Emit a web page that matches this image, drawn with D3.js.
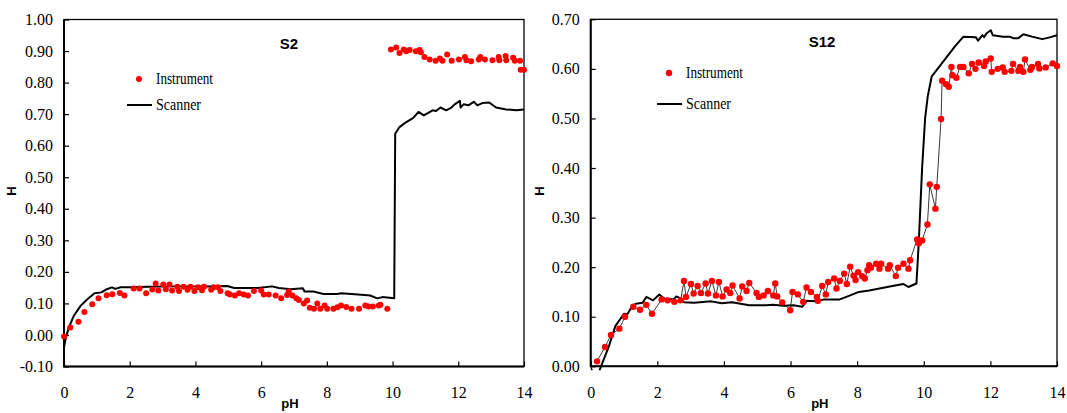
<!DOCTYPE html>
<meta charset="utf-8">
<style>

body {
  margin: 0;
  background: #fff;
}

svg {
  font-family: "Liberation Serif", "Times New Roman", serif;
}

.axis line {
  stroke: #000;
  stroke-width: 1.2;
}

.label {
  font-family: "Liberation Sans", Arial, sans-serif;
  font-weight: bold;
}

.legend text {
  font-family: "Liberation Serif", "Times New Roman", serif;
  font-size: 16px;
}

</style>
<body>
<script src="https://d3js.org/d3.v7.min.js"></script>
<script>

// shared tick labels
var pHTicks = [0, 2, 4, 6, 8, 10, 12, 14];
var s2HTicks = [-0.1, 0, 0.1, 0.2, 0.3, 0.4, 0.5, 0.6, 0.7, 0.8, 0.9, 1.0];
var s12HTicks = [0, 0.1, 0.2, 0.3, 0.4, 0.5, 0.6, 0.7];

// S2 - instrument (dots only)
var s2InstrumentPH = [0, 0.19, 0.44, 0.62, 0.86, 1.05, 1.30, 1.47, 1.70, 1.84, 2.12, 2.30, 2.50, 2.69, 2.79, 2.87, 3.02, 3.10, 3.21, 3.29,
  3.45, 3.50, 3.64, 3.76, 3.85, 3.97, 4.08, 4.20, 4.26, 4.48, 4.55, 4.69, 4.76, 4.98, 5.05, 5.20, 5.33, 5.47, 5.60, 5.78,
  6.00, 6.08, 6.23, 6.44, 6.61, 6.79, 6.84, 6.95, 7.07, 7.15, 7.30, 7.40, 7.48, 7.61, 7.71, 7.80, 7.93, 8.01, 8.20, 8.32,
  8.43, 8.59, 8.75, 8.98, 9.17, 9.27, 9.40, 9.58, 9.63, 9.84, 9.95, 10.11, 10.21, 10.34, 10.42, 10.52, 10.71, 10.82, 10.86, 10.97,
  11.13, 11.31, 11.44, 11.52, 11.66, 11.80, 12.02, 12.20, 12.25, 12.39, 12.62, 12.67, 12.81, 13.04, 13.23, 13.25, 13.44, 13.46, 13.67, 13.72,
  13.88, 13.90, 14.00];
var s2InstrumentH = [-0.005, 0.024, 0.042, 0.073, 0.097, 0.116, 0.126, 0.129, 0.133, 0.125, 0.147, 0.147, 0.132, 0.144, 0.163, 0.141, 0.160, 0.145, 0.160, 0.141,
  0.153, 0.139, 0.153, 0.143, 0.153, 0.139, 0.151, 0.142, 0.153, 0.143, 0.151, 0.151, 0.139, 0.132, 0.128, 0.125, 0.132, 0.128, 0.125, 0.139,
  0.141, 0.128, 0.128, 0.125, 0.116, 0.127, 0.138, 0.125, 0.116, 0.111, 0.100, 0.109, 0.086, 0.083, 0.100, 0.083, 0.093, 0.083, 0.083, 0.088,
  0.093, 0.089, 0.083, 0.083, 0.093, 0.090, 0.090, 0.093, 0.096, 0.083, 0.905, 0.911, 0.894, 0.905, 0.899, 0.903, 0.899, 0.903, 0.896, 0.881,
  0.873, 0.869, 0.876, 0.869, 0.889, 0.869, 0.873, 0.881, 0.871, 0.868, 0.873, 0.881, 0.873, 0.871, 0.881, 0.871, 0.884, 0.871, 0.879, 0.869,
  0.869, 0.841, 0.841];

// S2 - scanner
var s2ScannerPH = [0, 0.06, 0.15, 0.30, 0.51, 0.72, 0.93, 1.14, 1.30, 1.46, 1.56, 1.72, 2.03, 2.56, 3.29, 4.34, 4.97, 5.18, 5.91, 6.33,
  6.54, 6.90, 7.27, 7.32, 7.59, 7.90, 8.32, 8.43, 8.95, 9.32, 9.53, 9.69, 10.05, 10.08, 10.21, 10.42, 10.63, 10.79, 10.95, 11.22,
  11.32, 11.46, 11.63, 11.79, 11.89, 12.05, 12.07, 12.16, 12.31, 12.47, 12.58, 12.73, 12.94, 13.15, 13.46, 13.77, 14.00];
var s2ScannerH = [-0.039, -0.007, 0.024, 0.061, 0.093, 0.114, 0.132, 0.135, 0.145, 0.151, 0.146, 0.151, 0.151, 0.153, 0.154, 0.154, 0.155, 0.149, 0.149, 0.154,
  0.149, 0.145, 0.148, 0.138, 0.138, 0.130, 0.130, 0.132, 0.128, 0.125, 0.116, 0.120, 0.116, 0.638, 0.659, 0.675, 0.688, 0.707, 0.696, 0.712,
  0.710, 0.721, 0.712, 0.721, 0.731, 0.742, 0.721, 0.731, 0.728, 0.739, 0.728, 0.735, 0.737, 0.721, 0.715, 0.712, 0.715];

// S12 - instrument (dots joined by a thin line)
var s12InstrumentPH = [0.19, 0.43, 0.61, 0.86, 1.03, 1.28, 1.48, 1.67, 1.84, 2.13, 2.31, 2.51, 2.70, 2.80, 2.86, 3.01, 3.09, 3.21, 3.31, 3.45,
  3.52, 3.64, 3.76, 3.85, 3.96, 4.08, 4.19, 4.26, 4.47, 4.55, 4.68, 4.76, 4.98, 5.05, 5.19, 5.32, 5.48, 5.54, 5.60, 5.75,
  5.99, 6.06, 6.22, 6.38, 6.48, 6.61, 6.79, 6.82, 6.95, 7.06, 7.13, 7.31, 7.38, 7.48, 7.61, 7.69, 7.79, 7.89, 7.95, 8.03,
  8.15, 8.23, 8.31, 8.36, 8.41, 8.57, 8.67, 8.72, 8.93, 8.98, 9.16, 9.23, 9.39, 9.54, 9.59, 9.80, 9.85, 9.95, 10.11, 10.18,
  10.35, 10.39, 10.52, 10.55, 10.67, 10.75, 10.83, 10.86, 10.98, 11.09, 11.19, 11.35, 11.45, 11.55, 11.65, 11.81, 11.86, 12.01, 12.04, 12.22,
  12.37, 12.43, 12.63, 12.68, 12.84, 12.89, 12.99, 13.04, 13.20, 13.25, 13.43, 13.47, 13.66, 13.87, 14.00];
var s12InstrumentH = [0.010, 0.039, 0.063, 0.076, 0.100, 0.120, 0.114, 0.124, 0.106, 0.135, 0.133, 0.130, 0.133, 0.172, 0.140, 0.166, 0.147, 0.162, 0.148, 0.167,
  0.147, 0.172, 0.143, 0.170, 0.141, 0.155, 0.148, 0.163, 0.137, 0.161, 0.152, 0.168, 0.148, 0.140, 0.143, 0.152, 0.143, 0.167, 0.141, 0.129,
  0.113, 0.150, 0.145, 0.130, 0.159, 0.150, 0.140, 0.132, 0.162, 0.145, 0.170, 0.177, 0.157, 0.172, 0.187, 0.166, 0.201, 0.183, 0.174, 0.190,
  0.182, 0.177, 0.194, 0.204, 0.199, 0.207, 0.197, 0.207, 0.197, 0.204, 0.182, 0.199, 0.207, 0.197, 0.214, 0.256, 0.248, 0.254, 0.286, 0.367,
  0.318, 0.362, 0.499, 0.576, 0.569, 0.564, 0.604, 0.587, 0.582, 0.604, 0.604, 0.591, 0.610, 0.600, 0.613, 0.606, 0.615, 0.621, 0.594, 0.600,
  0.603, 0.594, 0.596, 0.610, 0.596, 0.604, 0.594, 0.619, 0.598, 0.604, 0.610, 0.601, 0.603, 0.611, 0.606];

// S12 - scanner
var s12ScannerPH = [0, 0.15, 0.31, 0.54, 0.74, 1.00, 1.10, 1.26, 1.36, 1.56, 1.67, 1.87, 2.06, 2.20, 2.49, 2.57, 2.70, 2.80, 3.11, 3.62,
  3.93, 4.24, 4.76, 5.27, 5.48, 5.79, 6.09, 6.35, 6.49, 6.76, 7.02, 7.48, 7.79, 8.05, 8.36, 8.67, 8.98, 9.39, 9.54, 9.78,
  9.85, 9.95, 10.04, 10.12, 10.24, 10.53, 10.93, 11.19, 11.56, 11.63, 11.76, 11.81, 11.89, 12.01, 12.07, 12.38, 12.58, 12.68, 12.84, 12.99,
  13.25, 13.56, 13.81, 14.00];
var s12ScannerH = [-0.002, -0.03, 0.000, 0.039, 0.081, 0.106, 0.105, 0.123, 0.126, 0.128, 0.140, 0.133, 0.145, 0.137, 0.135, 0.141, 0.137, 0.129, 0.128, 0.131,
  0.127, 0.129, 0.123, 0.123, 0.124, 0.122, 0.123, 0.120, 0.132, 0.131, 0.135, 0.135, 0.143, 0.150, 0.153, 0.157, 0.161, 0.166, 0.160, 0.167,
  0.25, 0.40, 0.50, 0.545, 0.585, 0.610, 0.645, 0.665, 0.664, 0.657, 0.668, 0.664, 0.672, 0.678, 0.668, 0.665, 0.665, 0.662, 0.662, 0.670,
  0.665, 0.660, 0.664, 0.668];

var width = 1067,
    height = 413;

var serif = "'Liberation Serif', 'Times New Roman', serif";

var svg = d3.select("body").append("svg")
    .attr("width", width)
    .attr("height", height);

var fmt = function (d) { return d.toFixed(2); };

function pairs(xs, ys) {
  return d3.range(Math.min(xs.length, ys.length)).map(function (i) { return [xs[i], ys[i]]; });
}

// strip the axis line and put Times-like labels on the ticks
function styleAxis(a) {
  a.select(".domain").remove();
  a.attr("font-family", serif).attr("font-size", 16);
  a.selectAll("text")
    .attr("fill", "#000")
    .style("font-family", serif)
    .style("font-size", "16px");
}

function drawChart(c) {
  var x = d3.scaleLinear().domain([0, 14]).range([c.left, c.right]);
  var y = d3.scaleLinear().domain(c.yDomain).range([c.bottom, c.top]);
  var g = svg.append("g");

  /* clip for the scanner line, a little slack under the axis */
  g.append("clipPath").attr("id", c.id + "-clip")
    .append("rect")
    .attr("x", c.left).attr("y", c.top)
    .attr("width", c.right - c.left).attr("height", c.bottom - c.top + 4);

  /* axes, ticks pointing inwards */
  g.append("g").attr("class", "axis")
    .attr("transform", "translate(" + c.left + ",0)")
    .call(d3.axisLeft(y).tickValues(c.yTicks).tickFormat(fmt).tickSizeInner(-5).tickSizeOuter(0).tickPadding(11))
    .call(styleAxis);

  g.append("g").attr("class", "axis")
    .attr("transform", "translate(0," + c.bottom + ")")
    .call(d3.axisBottom(x).tickValues(pHTicks).tickFormat(d3.format("d")).tickSizeInner(-5).tickSizeOuter(0).tickPadding(20))
    .call(styleAxis);

  /* plot frame */
  g.append("rect")
    .attr("x", c.left).attr("y", c.top)
    .attr("width", c.right - c.left).attr("height", c.bottom - c.top)
    .attr("fill", "none").attr("stroke", "#000").attr("stroke-width", 1.3);
  g.append("path")
    .attr("d", "M" + c.left + "," + c.top + "V" + c.bottom + "H" + c.right)
    .attr("fill", "none").attr("stroke", "#000").attr("stroke-width", 2);

  var line = d3.line()
    .x(function (d) { return x(d[0]); })
    .y(function (d) { return y(d[1]); });

  g.append("path")
    .datum(pairs(c.scannerPH, c.scannerH))
    .attr("clip-path", "url(#" + c.id + "-clip)")
    .attr("fill", "none")
    .attr("stroke", "#000")
    .attr("stroke-width", 2)
    .attr("stroke-linejoin", "round")
    .attr("d", line);

  var inst = pairs(c.instrumentPH, c.instrumentH);

  if (c.joinInstrument) {
    g.append("path")
      .datum(inst)
      .attr("fill", "none")
      .attr("stroke", "#222")
      .attr("stroke-width", 0.9)
      .attr("d", line);
  }

  g.selectAll("circle.inst")
    .data(inst)
    .enter().append("circle")
    .attr("class", "inst")
    .attr("cx", function (d) { return x(d[0]); })
    .attr("cy", function (d) { return y(d[1]); })
    .attr("r", c.dotR)
    .attr("fill", "#ff0000");

  /* titles */
  g.append("text").attr("class", "label")
    .attr("x", c.titleX).attr("y", c.titleY)
    .attr("text-anchor", "middle")
    .style("font-size", "15px")
    .text(c.title);

  g.append("text").attr("class", "label")
    .attr("x", (c.left + c.right) / 2 - 4).attr("y", 408)
    .attr("text-anchor", "middle")
    .style("font-size", "13px")
    .text("pH");

  g.append("text").attr("class", "label")
    .attr("transform", "translate(" + (c.hLabelX + 5) + "," + 191 + ") rotate(-90)")
    .attr("text-anchor", "middle")
    .style("font-size", "13px")
    .text("H");

  /* legend */
  var lg = g.append("g").attr("class", "legend");
  lg.append("circle")
    .attr("cx", c.legendX + 12).attr("cy", c.legendY)
    .attr("r", c.dotR).attr("fill", "#ff0000");
  lg.append("text")
    .attr("x", c.legendX + 29).attr("y", c.legendY + 5)
    .attr("textLength", 57).attr("lengthAdjust", "spacingAndGlyphs")
    .text("Instrument");
  lg.append("line")
    .attr("x1", c.legendX).attr("x2", c.legendX + 25)
    .attr("y1", c.legendY + c.legendGap).attr("y2", c.legendY + c.legendGap)
    .attr("stroke", "#000").attr("stroke-width", 2);
  lg.append("text")
    .attr("x", c.legendX + 29).attr("y", c.legendY + c.legendGap + 5)
    .attr("textLength", 45).attr("lengthAdjust", "spacingAndGlyphs")
    .text("Scanner");
}

drawChart({
  id: "s2", title: "S2",
  left: 64, right: 524, top: 19.5, bottom: 366.5,
  yDomain: [-0.1, 1.0], yTicks: s2HTicks,
  instrumentPH: s2InstrumentPH, instrumentH: s2InstrumentH,
  scannerPH: s2ScannerPH, scannerH: s2ScannerH,
  joinInstrument: false, dotR: 3,
  titleX: 289, titleY: 49, hLabelX: 11,
  legendX: 127, legendY: 79, legendGap: 26
});

drawChart({
  id: "s12", title: "S12",
  left: 590.7, right: 1057, top: 19.3, bottom: 366.3,
  yDomain: [0, 0.7], yTicks: s12HTicks,
  instrumentPH: s12InstrumentPH, instrumentH: s12InstrumentH,
  scannerPH: s12ScannerPH, scannerH: s12ScannerH,
  joinInstrument: true, dotR: 3.2,
  titleX: 822, titleY: 47, hLabelX: 539,
  legendX: 657, legendY: 73, legendGap: 31
});

</script>
</body>
